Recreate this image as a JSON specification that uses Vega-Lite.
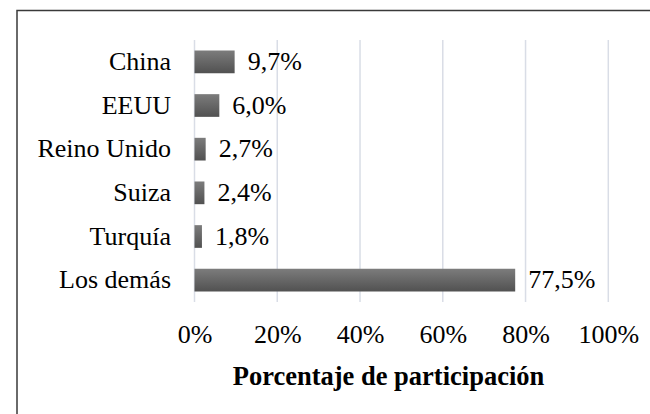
{
  "$schema": "https://vega.github.io/schema/vega-lite/v6.json",
  "width": 640,
  "height": 410,
  "autosize": {"type": "none"},
  "padding": {"left": 17, "top": 10.5, "right": 0, "bottom": 0},
  "background": "white",
  "config": {
    "locale": {"number": {"decimal": ",", "thousands": ".", "grouping": [3], "currency": ["", " €"]}},
    "view": {"stroke": "#3a3a3a", "strokeWidth": 1.5},
    "font": "'Liberation Serif', 'Times New Roman', serif"
  },
  "datasets": {
    "paises": [
      {"pais": "China", "valor": 0.097},
      {"pais": "EEUU", "valor": 0.060},
      {"pais": "Reino Unido", "valor": 0.027},
      {"pais": "Suiza", "valor": 0.024},
      {"pais": "Turquía", "valor": 0.018},
      {"pais": "Los demás", "valor": 0.775}
    ],
    "rejilla": [
      {"t": 0}, {"t": 0.2}, {"t": 0.4}, {"t": 0.6}, {"t": 0.8}, {"t": 1}
    ]
  },
  "layer": [
    {
      "data": {"name": "rejilla"},
      "mark": {"type": "rule", "color": "#d9dde6", "strokeWidth": 1.5},
      "encoding": {
        "x": {
          "field": "t",
          "type": "quantitative",
          "scale": {"domain": [0, 1], "range": [177.5, 591.3], "nice": false},
          "axis": {
            "title": "Porcentaje de participación",
            "orient": "bottom",
            "offset": -118.5,
            "values": [0, 0.2, 0.4, 0.6, 0.8, 1],
            "format": ".0%",
            "domain": false,
            "ticks": false,
            "tickSize": 0,
            "grid": false,
            "labelFlush": false,
            "labelPadding": 19,
            "labelFont": "'Liberation Serif', 'Times New Roman', serif",
            "labelFontSize": 26,
            "labelColor": "#000000",
            "titleFont": "'Liberation Serif', 'Times New Roman', serif",
            "titleFontSize": 26.5,
            "titleFontWeight": "bold",
            "titleColor": "#000000",
            "titleX": 371,
            "titleY": 82,
            "titleAlign": "center",
            "titleBaseline": "alphabetic",
            "titleAnchor": null
          }
        },
        "y": {"datum": 0, "type": "quantitative", "scale": {"domain": [0, 1], "range": [29.5, 291.5], "nice": false, "zero": false}, "axis": null},
        "y2": {"datum": 1}
      }
    },
    {
      "data": {"name": "paises"},
      "encoding": {
        "y": {
          "field": "pais",
          "type": "nominal",
          "sort": null,
          "scale": {"range": [29.5, 291.5], "paddingInner": 0.48, "paddingOuter": 0.24},
          "axis": {
            "title": null,
            "orient": "left",
            "offset": -177.5,
            "domain": false,
            "ticks": false,
            "tickSize": 0,
            "grid": false,
            "labelPadding": 24,
            "labelFont": "'Liberation Serif', 'Times New Roman', serif",
            "labelFontSize": 26,
            "labelColor": "#000000"
          }
        },
        "x": {"field": "valor", "type": "quantitative"}
      },
      "layer": [
        {
          "mark": {
            "type": "bar",
            "color": {
              "gradient": "linear",
              "x1": 0, "y1": 0, "x2": 0, "y2": 1,
              "stops": [
                {"offset": 0, "color": "#7c7c7c"},
                {"offset": 1, "color": "#515151"}
              ]
            }
          }
        },
        {
          "mark": {
            "type": "text",
            "align": "left",
            "baseline": "middle",
            "dx": 13,
            "font": "'Liberation Serif', 'Times New Roman', serif",
            "fontSize": 26,
            "color": "#000000"
          },
          "encoding": {
            "text": {"field": "valor", "type": "quantitative", "format": ".1%"}
          }
        }
      ]
    }
  ],
  "resolve": {"scale": {"y": "independent"}, "axis": {"y": "independent"}}
}
